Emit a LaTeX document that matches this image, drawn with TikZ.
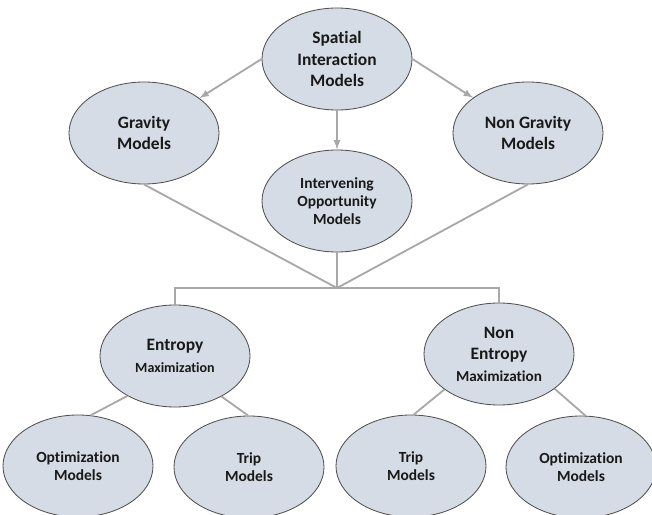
\documentclass[tikz,border=0pt]{standalone}
\usepackage{fontspec}
\setmainfont{Carlito}[Ligatures=NoCommon]
\usetikzlibrary{calc, shapes}
\definecolor{modelfill}{HTML}{D6DCE5}
\definecolor{modelline}{HTML}{505050}
\definecolor{linkgray}{HTML}{A8A8A8}
\tikzset{
  model/.style={ellipse, draw=modelline, line width=0.6pt, fill=modelfill,
    minimum width=3.75cm, minimum height=2.55cm, inner sep=0pt, align=center,
    text=black!90, font=\bfseries\fontsize{12.4}{15.3}\selectfont},
  small model/.style={model, font=\bfseries\fontsize{11}{13}\selectfont},
  link/.style={draw=linkgray, line width=1.3pt},
  arrow link/.style={link, -latex}
}

\begin{document}
\begin{tikzpicture}
\useasboundingbox (0,0) rectangle (16.3,-12.875);
\node[model] (sim) at (8.425,-1.475) {Spatial\\Interaction\\Models};
\node[model] (grav) at (3.6,-3.325) {Gravity\\Models};
\node[model] (ngrav) at (13.2,-3.325) {Non Gravity\\Models};
\node[small model] (iom) at (8.425,-5.025) {Intervening\\Opportunity\\Models};
\coordinate (hub) at (8.425,-7.2);
\node[model] (ent) at (4.375,-8.9) {Entropy\\{\fontsize{10}{12}\selectfont Maximization}};
\node[model] (nent) at (12.475,-8.85) {Non\\Entropy\\{\fontsize{10.8}{13}\selectfont Maximization}};
\node[small model] (optl) at (1.95,-11.65) {Optimization\\Models};
\node[small model] (tripl) at (6.225,-11.675) {Trip\\Models};
\node[small model] (tripr) at (10.275,-11.65) {Trip\\Models};
\node[small model] (optr) at (14.525,-11.675) {Optimization\\Models};
% top level
\draw[arrow link] (sim.west) -- (grav);
\draw[arrow link] (sim.east) -- (ngrav);
\draw[arrow link] (sim) -- (iom);
% merge
\draw[link] (grav.south) -- (hub);
\draw[link] (ngrav.south) -- (hub);
\draw[link] (iom.south) -- (hub);
\draw[link] (ent.north) |- (hub) -| (nent.north);
% bottom level
\draw[link] (ent.220) -- (optl.76);
\draw[link] (ent.319) -- (tripl.91);
\draw[link] (nent.213) -- (tripr.87);
\draw[link] (nent.328) -- (optr.85);
\end{tikzpicture}
\end{document}
